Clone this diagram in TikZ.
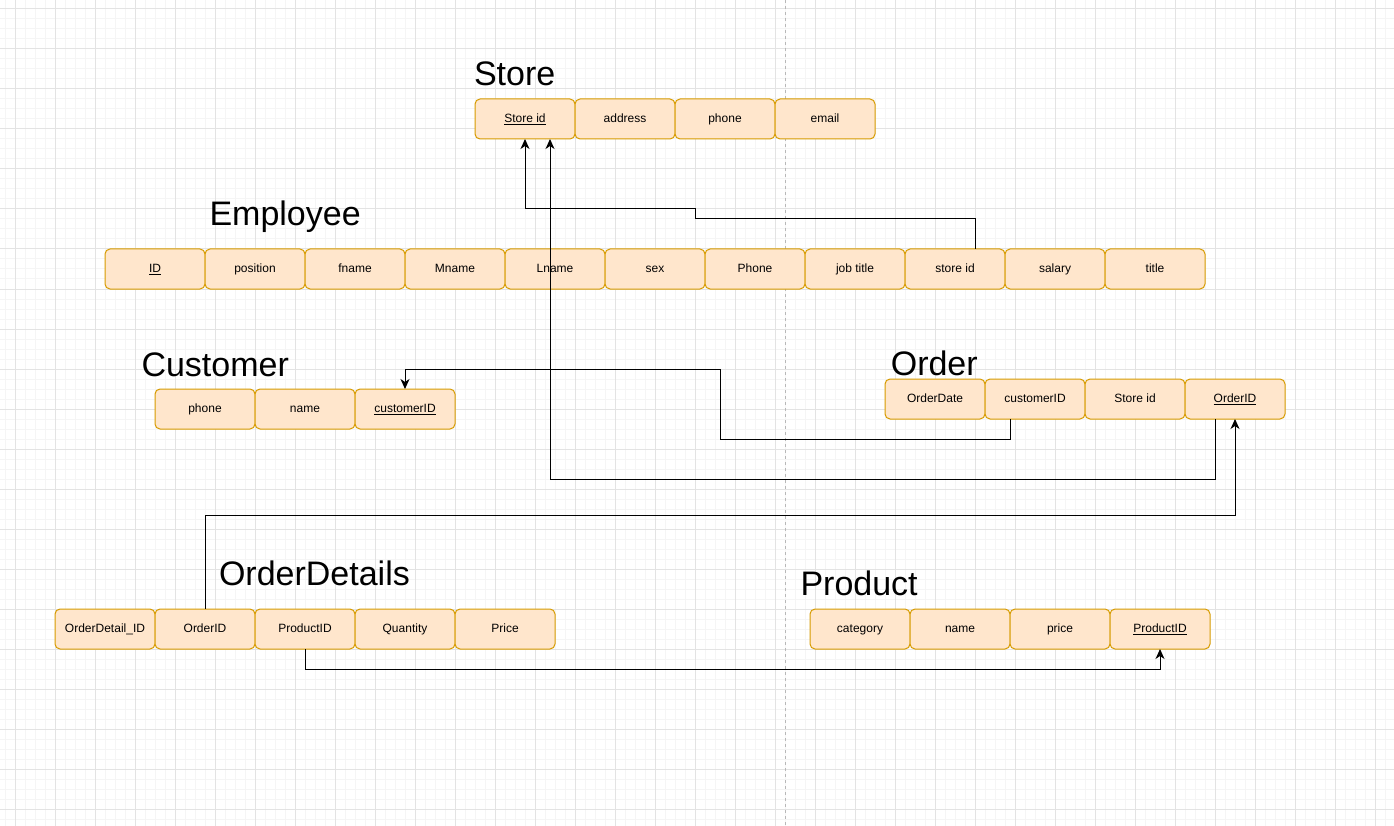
\documentclass[tikz,border=0pt]{standalone}
\usepackage{fontspec}
\setmainfont{Liberation Sans}
\usetikzlibrary{arrows.meta,calc}
\definecolor{boxfill}{HTML}{FFE6CC}
\definecolor{boxline}{HTML}{D79B00}
\definecolor{gridminor}{HTML}{F5F5F5}
\definecolor{gridmajor}{HTML}{E3E3E3}
\definecolor{pagebreak}{HTML}{B8B8B8}
\begin{document}
\begin{tikzpicture}[x=1pt,y=-1pt,
  attr/.style={draw=boxline, fill=boxfill, rounded corners=5pt, minimum width=100pt,
    minimum height=40pt, inner sep=0pt, outer sep=0pt, anchor=north west,
    text height=8pt, text depth=1pt,
    font=\fontsize{12}{14}\selectfont, line width=1pt},
  etitle/.style={anchor=base west, inner sep=0pt, outer sep=0pt, font=\fontsize{34}{40}\selectfont},
  conn/.style={draw=black, line width=1pt, -{Stealth[length=10pt,width=9pt,inset=3pt]}},
  minorline/.style={draw=gridminor, line width=1pt},
  majorline/.style={draw=gridmajor, line width=1pt},
  breakline/.style={draw=pagebreak, line width=1pt, dash pattern=on 3pt off 3pt}
]
% background and grid
\fill[white] (0,0) rectangle (1394,826);
\useasboundingbox (0,0) rectangle (1394,826);
\foreach \x in {5,15,...,1395} \draw[minorline] (\x,0) -- (\x,826);
\foreach \y in {9,19,...,826} \draw[minorline] (0,\y) -- (1394,\y);
\foreach \x in {15,55,...,1394} \draw[majorline] (\x,0) -- (\x,826);
\foreach \y in {9,49,...,826} \draw[majorline] (0,\y) -- (1394,\y);
\draw[breakline] (785.5,0) -- (785.5,826);

% titles
\node[etitle] (tStore) at (474,85.5) {Store};
\node[etitle] (tEmp) at (209.5,225.7) {Employee};
\node[etitle] (tCust) at (141.5,376) {Customer};
\node[etitle] (tOrder) at (890.8,375.5) {Order};
\node[etitle] (tOD) at (219,585.7) {OrderDetails};
\node[etitle] (tProd) at (800.5,595.7) {Product};

% Store
\foreach \t [count=\i] in {{\underline{Store id}},address,phone,email}
  \node[attr] (st\i) at ({475+100*(\i-1)},99) {\t};
% Employee
\foreach \t [count=\i] in {{\underline{ID}},position,fname,Mname,Lname,sex,Phone,job title,store id,salary,title}
  \node[attr] (em\i) at ({105+100*(\i-1)},249) {\t};
% Customer
\foreach \t [count=\i] in {phone,name,{\underline{customerID}}}
  \node[attr] (cu\i) at ({155+100*(\i-1)},389) {\t};
% Order
\foreach \t [count=\i] in {OrderDate,customerID,Store id,{\underline{OrderID}}}
  \node[attr] (or\i) at ({885+100*(\i-1)},379) {\t};
% OrderDetails
\foreach \t [count=\i] in {OrderDetail\_ID,OrderID,ProductID,Quantity,Price}
  \node[attr] (od\i) at ({55+100*(\i-1)},609) {\t};
% Product
\foreach \t [count=\i] in {category,name,price,{\underline{ProductID}}}
  \node[attr] (pr\i) at ({810+100*(\i-1)},609) {\t};

% connectors
\draw[conn] ([xshift=20pt]em9.north) -- ++(0,-30) -| (695,209) -| (st1.south);
\coordinate (b2) at (550,479);
\draw[conn] ([xshift=-20pt]or4.south) |- (b2) -- ([xshift=25pt]st1.south);
\draw[conn] ([xshift=-25pt]or2.south) -- ++(0,20) -| (720,369) -| (cu3.north);
\draw[conn] (od2.north) -- ++(0,-94) -| (or4.south);
\draw[conn] (od3.south) -- ++(0,20) -| (pr4.south);
\end{tikzpicture}
\end{document}
